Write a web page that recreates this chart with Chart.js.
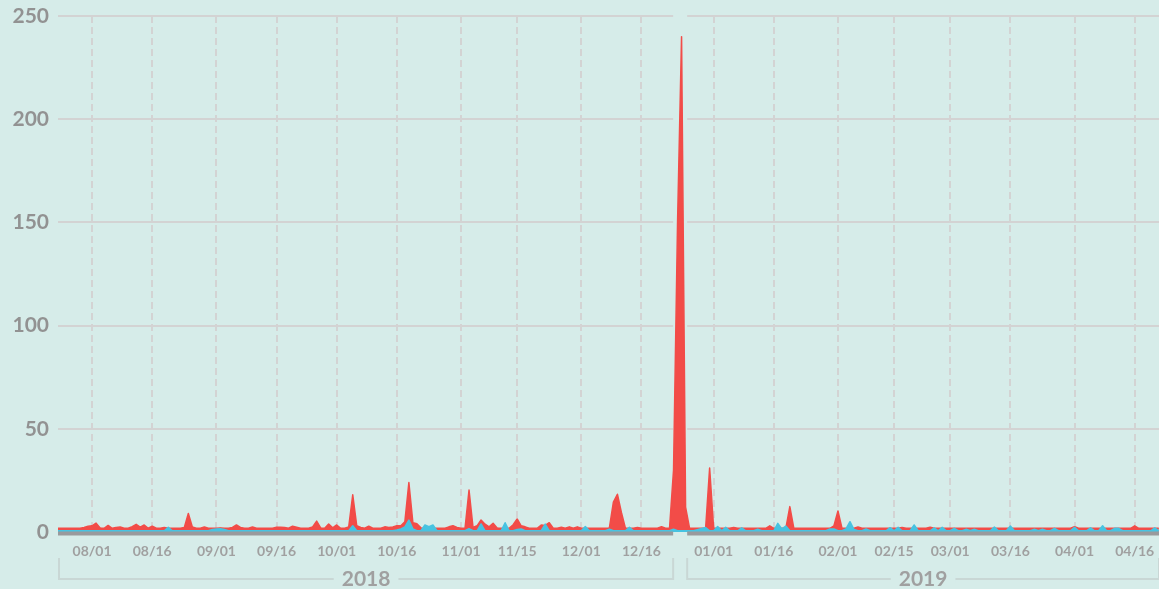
<!DOCTYPE html>
<html>
<head>
<meta charset="utf-8">
<script src="https://cdn.jsdelivr.net/npm/chart.js@4.4.1/dist/chart.umd.min.js"></script>
<style>
  html, body { margin: 0; padding: 0; background: #d6ece9; }
  #wrap { width: 1159px; height: 589px; position: relative; }
</style>
</head>
<body>
<div id="wrap"><canvas id="chart"></canvas></div>
<script>
// one value per day, starting 2018-07-23
const START = '2018-07-23'
const red = [
  1.8,1.8,1.8,1.8,1.8,1.8,1.8,2.2,2.8,3,
  4.3,2,1.8,3.2,1.8,2.2,2.4,1.8,1.8,2.6,
  3.7,2.4,3.4,1.8,2.8,1.8,1.8,2.2,1.8,1.8,
  1.8,1.8,2.2,9,2.4,1.8,1.8,2.4,1.8,1.8,
  1.8,2,1.8,1.8,2.2,3.4,2.2,1.8,1.8,2.4,
  1.8,1.8,1.8,1.8,1.8,2.3,2.3,2.2,1.8,2.8,
  2.3,1.8,1.8,1.8,2.5,5.3,2,1.8,3.9,2,
  3.4,1.8,1.8,2.5,18,3,2.2,1.8,2.8,1.8,
  1.8,1.8,2.5,2.2,2.4,3,3,5,24,4.5,
  4,2,1.8,1.8,1.8,1.8,1.8,1.8,2.5,3,
  2.2,1.8,1.8,20.3,2.2,3,5.8,3.8,2.5,4.2,
  2,1.8,1.8,1.8,3.5,6.3,3,2.5,1.8,1.8,
  1.8,3.4,3.2,4.5,1.8,1.8,2.3,1.8,2.5,1.8,
  2.5,1.8,1.8,1.8,1.8,1.8,1.8,1.8,2,14.5,
  18.3,9.5,1.8,1.8,1.8,2.2,1.8,1.8,1.8,1.8,
  1.8,2.6,1.8,1.8,30,150,240,12,1.8,1.8,
  1.8,31,1.8,1.8,1.8,1.8,1.8,2.2,1.8,1.8,
  1.8,1.8,1.8,1.8,1.8,1.8,3,1.8,1.8,1.8,
  1.8,12.3,1.8,1.8,1.8,1.8,1.8,1.8,1.8,1.8,
  1.8,1.8,3,10.2,1.8,1.8,1.8,1.8,2.4,1.8,
  1.8,1.8,1.8,1.8,1.8,1.8,1.8,1.8,1.8,2.2,
  1.8,1.8,1.8,1.8,1.8,1.8,2.3,1.8,1.8,1.8,
  1.8,1.8,1.8,1.8,1.8,1.8,1.8,1.8,1.8,1.8,
  1.8,1.8,1.8,1.8,1.8,1.8,1.8,1.8,1.8,1.8,
  1.8,1.8,1.8,1.8,1.8,1.8,1.8,1.8,1.8,1.8,
  1.8,1.8,2.6,1.8,1.8,1.8,1.8,1.8,1.8,1.8,
  1.8,1.8,1.8,1.8,1.8,1.8,1.8,3,1.8,1.8,
  1.8,1.8,1.8,1.8
]
const blue = [
  0.6,0.6,0.6,0.6,0.6,0.6,0.6,0.6,0.6,0.6,
  0.6,0.6,0.6,0.6,0.6,0.6,0.6,0.6,0.6,0.6,
  0.6,0.6,0.6,0.6,0.6,0.6,0.6,0.6,2.3,0.6,
  0.6,0.6,0.6,0.6,0.6,0.6,0.6,0.6,0.6,1.2,
  1.5,1.6,1.2,0.6,0.6,0.6,0.6,0.6,0.6,0.6,
  0.6,0.6,0.6,0.6,0.6,0.6,0.6,0.6,0.6,0.6,
  0.6,0.6,0.6,0.6,0.6,0.6,0.6,0.6,0.6,0.6,
  0.6,0.6,0.6,0.6,3,0.6,0.6,0.6,0.6,0.6,
  0.6,0.6,0.6,0.6,0.6,1,1.5,2.5,5.8,1.5,
  0.6,0.6,3.4,2.6,3.4,0.6,0.6,0.6,0.6,0.6,
  0.6,0.6,0.6,1.6,0.6,0.6,3.9,0.6,0.6,0.6,
  0.6,0.6,4.5,0.6,0.6,1.2,1.5,0.6,0.6,0.6,
  0.6,0.6,3.8,0.6,0.6,0.6,0.6,0.6,0.6,0.6,
  0.6,0.6,2.6,0.6,0.6,0.6,0.6,0.6,1.4,0.6,
  0.6,0.6,0.6,2.3,0.6,0.6,0.6,0.6,0.6,0.6,
  0.6,0.6,0.6,0.6,1.3,0.6,0.6,0.6,0.6,0.6,
  2.2,0.6,0.6,2.6,0.6,2.3,0.6,0.6,0.6,2,
  0.6,0.6,0.6,1.3,0.6,0.6,0.6,0.6,4.2,1.5,
  2.9,0.6,0.6,0.6,0.6,0.6,0.6,0.6,0.6,0.6,
  0.6,1.5,1.5,0.6,0.6,1.5,5,1.2,0.6,0.6,
  1.5,0.6,0.6,0.6,0.6,0.6,2.1,0.6,2.3,0.6,
  0.6,0.6,3.4,0.6,0.6,0.6,0.6,2,0.6,2.3,
  0.6,0.6,1.8,0.6,0.6,1.3,0.6,1.3,0.6,0.6,
  0.6,0.6,2.4,0.6,0.6,0.6,2.9,0.6,0.6,0.6,
  0.6,0.6,1.3,0.6,1.3,0.6,0.6,1.8,0.6,0.6,
  0.6,0.6,2.3,0.6,0.6,0.6,2,0.6,0.6,3,
  0.6,0.6,1.8,1.8,0.6,0.6,0.6,0.6,0.6,0.6,
  0.6,0.6,2,0.6
]
const tickDates = ['2018-08-01','2018-08-16','2018-09-01','2018-09-16','2018-10-01','2018-10-16',
  '2018-11-01','2018-11-15','2018-12-01','2018-12-16','2019-01-01','2019-01-16','2019-02-01',
  '2019-02-15','2019-03-01','2019-03-16','2019-04-01','2019-04-16']
const years = ['2018', '2019']
const yTicks = [0, 50, 100, 150, 200, 250]

const BG = '#d6ece9'
const GRID = '#d3d3d3'
const SHIFT_FROM = '2018-12-30'   // the 2019 block sits a little further right
const SHIFT_DAYS = 2
const BREAK = [153.9, 157.4]      // gap between the two year blocks, axis units

const DAY = 864e5
const t0 = Date.parse(START)
function dateAt(i) { return new Date(t0 + i * DAY).toISOString().slice(0, 10) }
function pos(d) { return (Date.parse(d) - t0) / DAY + (d >= SHIFT_FROM ? SHIFT_DAYS : 0) }

const dates = red.map((_, i) => dateAt(i))
const toPoints = vals => vals.map((v, i) => ({ x: pos(dates[i]), y: v }))

const decor = {
  id: 'decor',
  beforeDraw(chart) {
    const { ctx, width, height } = chart
    ctx.save()
    ctx.fillStyle = BG
    ctx.fillRect(0, 0, width, height)
    ctx.restore()
  },
  beforeDatasetsDraw(chart) {
    const { ctx, chartArea: a, scales: { x } } = chart
    const x0 = x.getPixelForValue(BREAK[0]), x1 = x.getPixelForValue(BREAK[1])
    ctx.save()
    ctx.fillStyle = BG
    ctx.fillRect(x0, a.top - 3, x1 - x0, a.bottom - a.top + 6)
    ctx.restore()
  },
  afterDatasetsDraw(chart) {
    const { ctx, chartArea: a, scales: { x } } = chart
    const x0 = x.getPixelForValue(BREAK[0]), x1 = x.getPixelForValue(BREAK[1])
    ctx.save()
    ctx.fillStyle = '#999a9c'
    ctx.fillRect(a.left, a.bottom - 0.5, x0 - a.left, 4)
    ctx.fillRect(x1, a.bottom - 0.5, a.right - x1, 4)

    // year brackets
    const spans = [[a.left + 1, x0], [x1, a.right]]
    const top = 558, base = 579
    ctx.strokeStyle = '#c9d7d5'
    ctx.lineWidth = 2
    ctx.font = 'bold 21px Lato'
    ctx.textAlign = 'center'
    ctx.textBaseline = 'middle'
    spans.forEach(([l, r], i) => {
      ctx.beginPath()
      ctx.moveTo(l, top); ctx.lineTo(l, base); ctx.lineTo(r, base); ctx.lineTo(r, top)
      ctx.stroke()
      const cx = (l + r) / 2
      const w = ctx.measureText(years[i]).width + 16
      ctx.fillStyle = BG
      ctx.fillRect(cx - w / 2, base - 4, w, 8)
      ctx.fillStyle = '#a0a0a0'
      ctx.fillText(years[i], cx, base)
    })
    ctx.restore()
  }
}

Chart.defaults.font.family = 'Lato'

new Chart(document.getElementById('chart'), {
  type: 'line',
  data: {
    datasets: [
      {
        label: 'blue',
        data: toPoints(blue),
        borderColor: '#47c3e1',
        backgroundColor: '#47c3e1',
        borderWidth: 1.5,
        borderJoinStyle: 'round',
        fill: 'origin'
      },
      {
        label: 'red',
        data: toPoints(red),
        borderColor: '#f24c48',
        backgroundColor: '#f24c48',
        borderWidth: 1.5,
        borderJoinStyle: 'round',
        fill: 'origin'
      }
    ]
  },
  options: {
    responsive: true,
    maintainAspectRatio: false,
    animation: false,
    layout: { padding: { top: 16, right: 0, left: 0, bottom: 0 } },
    elements: { point: { radius: 0 }, line: { tension: 0 } },
    plugins: { legend: { display: false }, tooltip: { enabled: false } },
    scales: {
      x: {
        type: 'linear',
        min: 0.5,
        max: 275.06,
        afterFit: s => { s.height = 57; s.paddingLeft = 0; s.paddingRight = 0 },
        afterBuildTicks: s => { s.ticks = tickDates.map(d => ({ value: pos(d) })) },
        grid: { color: GRID, lineWidth: 2, drawTicks: false },
        border: { display: false, dash: [7, 4] },
        ticks: {
          autoSkip: false,
          maxRotation: 0,
          padding: 11,
          color: '#a0a0a0',
          font: { size: 14, weight: 'bold' },
          callback: (v, i) => tickDates[i].slice(5).replace('-', '/')
        }
      },
      y: {
        min: 0,
        max: 250,
        afterFit: s => { s.width = 58; s.paddingTop = 0; s.paddingBottom = 0 },
        afterBuildTicks: s => { s.ticks = yTicks.map(v => ({ value: v })) },
        grid: { color: GRID, lineWidth: 2, drawTicks: false },
        border: { display: false },
        ticks: { padding: 9, color: '#929292', font: { size: 21, weight: 'bold' } }
      }
    }
  },
  plugins: [decor]
})
</script>
</body>
</html>
